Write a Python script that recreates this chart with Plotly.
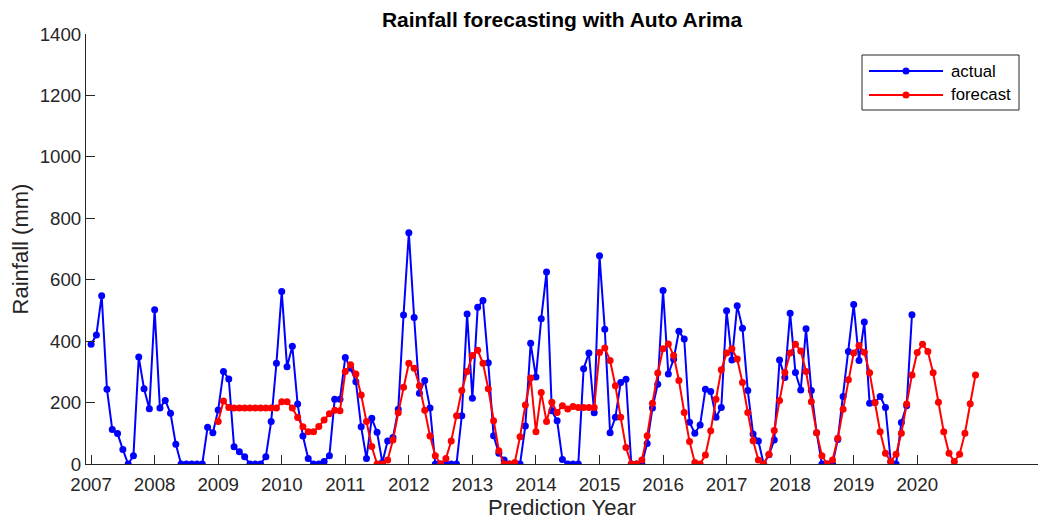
import plotly.graph_objects as go

# Monthly rainfall (mm), January 2007 onwards
actual_start = 2007
actual_mm = [
    390, 420, 548, 243, 112, 99, 47, 0, 27, 348, 245, 180,          # 2007
    502, 182, 207, 165, 64, 0, 0, 0, 0, 0, 120, 102,                 # 2008
    176, 301, 277, 56, 40, 24, 0, 0, 0, 24, 138, 328,                # 2009
    562, 317, 383, 195, 91, 18, 0, 0, 8, 27, 211, 211,               # 2010
    347, 312, 268, 121, 18, 149, 103, 5, 75, 86, 178, 485,           # 2011
    753, 477, 230, 272, 182, 0, 0, 0, 0, 0, 157, 488,                # 2012
    214, 510, 532, 330, 92, 35, 13, 0, 0, 0, 124, 393,               # 2013
    283, 473, 625, 173, 141, 15, 0, 0, 0, 310, 361, 167,             # 2014
    678, 439, 102, 152, 265, 276, 0, 0, 0, 67, 182, 260,             # 2015
    565, 293, 341, 432, 407, 136, 100, 127, 243, 236, 152, 184,      # 2016
    499, 339, 515, 442, 239, 98, 75, 0, 30, 78, 339, 282,            # 2017
    491, 298, 241, 440, 239, 102, 0, 0, 0, 80, 220, 366,             # 2018
    519, 337, 462, 198, 200, 220, 184, 8, 0, 135, 190, 486,          # 2019
]

# Auto ARIMA forecast, January 2009 onwards
forecast_start = 2009
forecast_mm = [
    138, 205, 184, 182, 182, 182, 182, 182, 182, 182, 182, 182,      # 2009
    203, 203, 182, 151, 121, 105, 105, 122, 143, 164, 175, 173,      # 2010
    301, 323, 293, 225, 138, 57, 0, 0, 13, 78, 167, 250,             # 2011
    328, 312, 255, 175, 91, 27, 0, 18, 75, 157, 239, 301,            # 2012
    353, 370, 328, 245, 141, 43, 0, 0, 5, 89, 192, 280,              # 2013
    105, 233, 138, 201, 168, 190, 179, 187, 184, 184, 184, 184,      # 2014
    363, 378, 337, 255, 152, 54, 0, 0, 13, 92, 198, 296,             # 2015
    375, 391, 353, 272, 168, 73, 5, 0, 29, 108, 211, 307,            # 2016
    361, 375, 342, 265, 168, 76, 13, 0, 32, 109, 207, 298,           # 2017
    361, 390, 368, 301, 203, 102, 27, 0, 13, 84, 178, 274,           # 2018
    361, 386, 364, 297, 200, 105, 35, 8, 32, 100, 195, 290,          # 2019
    363, 390, 366, 297, 201, 105, 35, 8, 32, 100, 196, 290,          # 2020
]

year_ticks = list(range(2007, 2021))
year_labels = [str(y) for y in year_ticks]
rain_ticks = [0, 200, 400, 600, 800, 1000, 1200, 1400]

series_names = ["actual", "forecast"]
series_colors = ["#0000ff", "#ff0000"]


def month_axis(start_year, n):
    return [start_year + i / 12 for i in range(n)]


FONT = "Liberation Sans, Arial, Helvetica, sans-serif"
AXIS_GREY = "#262626"

W, H = 1044, 520
M = dict(l=86, r=6, t=34, b=56)
PLOT_W = W - M["l"] - M["r"]
PLOT_H = H - M["t"] - M["b"]


def px_to_paper(px, py):
    """Convert page pixel position to paper coordinates of the plot area."""
    return (px - M["l"]) / PLOT_W, (H - M["b"] - py) / PLOT_H


fig = go.Figure()
for name, color, start, values in [
    (series_names[0], series_colors[0], actual_start, actual_mm),
    (series_names[1], series_colors[1], forecast_start, forecast_mm),
]:
    fig.add_trace(go.Scatter(
        x=month_axis(start, len(values)), y=values,
        name=name, mode="lines+markers", showlegend=False,
        line=dict(color=color, width=2),
        marker=dict(color=color, size=7, symbol="circle"),
    ))

# Boxed legend in the upper-right corner, with long line samples
shapes = []
annotations = []
bx0, by0 = px_to_paper(862, 55)
bx1, by1 = px_to_paper(1019, 110)
shapes.append(dict(type="rect", xref="paper", yref="paper",
                   x0=bx0, x1=bx1, y0=by1, y1=by0,
                   line=dict(color=AXIS_GREY, width=1), fillcolor="white",
                   layer="above"))
for row, (name, color) in enumerate(zip(series_names, series_colors)):
    row_y = 71 + row * 24
    lx0, ly = px_to_paper(869, row_y)
    lx1, _ = px_to_paper(943, row_y)
    mx, _ = px_to_paper(906, row_y)
    tx, _ = px_to_paper(949, row_y)
    shapes.append(dict(type="line", xref="paper", yref="paper",
                       x0=lx0, x1=lx1, y0=ly, y1=ly,
                       line=dict(color=color, width=2), layer="above"))
    shapes.append(dict(type="circle", xref="paper", yref="paper",
                       xsizemode="pixel", ysizemode="pixel",
                       xanchor=mx, yanchor=ly, x0=-3.5, x1=3.5, y0=-3.5, y1=3.5,
                       line=dict(color=color, width=0), fillcolor=color,
                       layer="above"))
    annotations.append(dict(text=name, xref="paper", yref="paper",
                            x=tx, y=ly, xanchor="left", yanchor="middle",
                            showarrow=False,
                            font=dict(family=FONT, size=16.8, color="black")))

fig.update_layout(
    width=W, height=H,
    margin=dict(M, autoexpand=False),
    paper_bgcolor="white", plot_bgcolor="white",
    font=dict(family=FONT, color=AXIS_GREY, size=18.7),
    title=dict(
        text="<b>Rainfall forecasting with Auto Arima</b>",
        x=0.5, xref="paper", xanchor="center",
        y=0.962, yref="container", yanchor="middle",
        font=dict(family=FONT, size=21, color="black"),
    ),
    showlegend=False,
    shapes=shapes,
    annotations=annotations,
)

fig.update_xaxes(
    range=[2006.92, 2021.9],
    tickmode="array", tickvals=year_ticks, ticktext=year_labels,
    ticks="inside", ticklen=9, tickwidth=1, tickcolor=AXIS_GREY,
    showline=True, linecolor=AXIS_GREY, linewidth=1, mirror=False,
    showgrid=False, zeroline=False, ticklabelstandoff=4, automargin=False,
    tickfont=dict(family=FONT, size=18.7, color=AXIS_GREY),
    title=dict(text="Prediction Year", standoff=6,
               font=dict(family=FONT, size=22, color=AXIS_GREY)),
)
fig.update_yaxes(
    range=[0, 1400],
    tickmode="array", tickvals=rain_ticks,
    ticks="inside", ticklen=9, tickwidth=1, tickcolor=AXIS_GREY,
    showline=True, linecolor=AXIS_GREY, linewidth=1, mirror=False,
    showgrid=False, zeroline=False, automargin=False,
    tickfont=dict(family=FONT, size=18.7, color=AXIS_GREY),
    title=dict(text="Rainfall (mm)", standoff=4,
               font=dict(family=FONT, size=22, color=AXIS_GREY)),
)

fig.write_html("out.html")
